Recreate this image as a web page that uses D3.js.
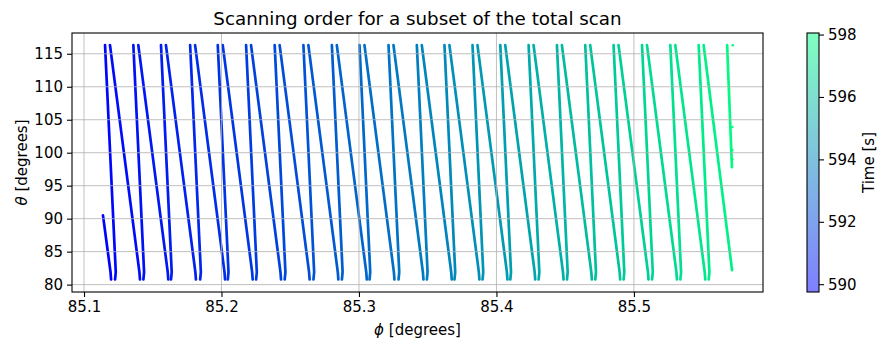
<!DOCTYPE html>
<html>
<head>
<meta charset="utf-8">
<script src="https://cdn.jsdelivr.net/npm/d3@7"></script>
<style>
  body { margin: 0; background: #fff; }
  svg text { font-family: "DejaVu Sans", sans-serif; fill: #000; }
</style>
</head>
<body>
<div id="chart"></div>
<script>
// phi [deg] where each fast (near vertical) stroke starts at the top / ends at the bottom
const vertTopPhi = [85.1153, 85.1359, 85.1560, 85.1772, 85.1973, 85.2179, 85.2387, 85.2596,
  85.2803, 85.3004, 85.3215, 85.3421, 85.3622, 85.3826, 85.4028, 85.4234, 85.4440, 85.4646,
  85.4852, 85.5059, 85.5265, 85.5471, 85.5678];
const vertBottomPhi = [85.1231, 85.1437, 85.1638, 85.1850, 85.2051, 85.2257, 85.2465, 85.2674,
  85.2881, 85.3082, 85.3293, 85.3499, 85.3700, 85.3904, 85.4106, 85.4312, 85.4518, 85.4724,
  85.4930, 85.5137, 85.5343, 85.5549, 85.5713];
const vertBottomTheta = [80.8, 80.8, 80.8, 80.8, 80.8, 80.8, 80.8, 80.8, 80.8, 80.8, 80.8, 80.8,
  80.8, 80.8, 80.8, 80.8, 80.8, 80.8, 80.8, 80.8, 80.8, 80.8, 97.8];
const vertTime = [589.95, 590.31, 590.66, 591.02, 591.37, 591.73, 592.08, 592.44, 592.79, 593.15,
  593.50, 593.86, 594.21, 594.57, 594.92, 595.28, 595.63, 595.99, 596.34, 596.70, 597.05, 597.41, 597.90];

// slow (slanted) strokes; the first one is only partly inside the subset
const slantTopPhi = [85.1138, 85.1189, 85.1395, 85.1596, 85.1808, 85.2009, 85.2215, 85.2423,
  85.2632, 85.2839, 85.3040, 85.3251, 85.3457, 85.3658, 85.3862, 85.4064, 85.4270, 85.4476,
  85.4682, 85.4888, 85.5095, 85.5301, 85.5507];
const slantTopTheta = [90.5, 116.3, 116.3, 116.3, 116.3, 116.3, 116.3, 116.3, 116.3, 116.3, 116.3,
  116.3, 116.3, 116.3, 116.3, 116.3, 116.3, 116.3, 116.3, 116.3, 116.3, 116.3, 116.3];
const slantBottomPhi = [85.1197, 85.1407, 85.1613, 85.1814, 85.2026, 85.2227, 85.2433, 85.2641,
  85.2850, 85.3057, 85.3258, 85.3469, 85.3675, 85.3876, 85.4080, 85.4282, 85.4488, 85.4694,
  85.4900, 85.5106, 85.5313, 85.5519, 85.5714];
const slantBottomTheta = [80.8, 80.8, 80.8, 80.8, 80.8, 80.8, 80.8, 80.8, 80.8, 80.8, 80.8, 80.8,
  80.8, 80.8, 80.8, 80.8, 80.8, 80.8, 80.8, 80.8, 80.8, 80.8, 82.2];
const slantTime = [589.80, 590.13, 590.49, 590.84, 591.20, 591.55, 591.91, 592.26, 592.62, 592.97,
  593.33, 593.68, 594.04, 594.39, 594.75, 595.10, 595.46, 595.81, 596.17, 596.52, 596.88, 597.23, 597.59];

// a few stray samples at the very end of the subset
const strayPhi = [85.5719, 85.5716, 85.5716, 85.5716];
const strayTheta = [116.3, 103.9, 100.4, 99.0];

const thetaTop = 116.3;
const thetaKnee = 81.9;

const xTicks = [85.1, 85.2, 85.3, 85.4, 85.5];
const yTicks = [80, 85, 90, 95, 100, 105, 110, 115];
const timeTicks = [590, 592, 594, 596, 598];
const timeRange = [589.75, 598.05];

class ScanChart {
  constructor(_config) {
    this.config = {
      parentElement: _config.parentElement,
      containerWidth: _config.containerWidth || 878,
      containerHeight: _config.containerHeight || 342,
      margin: _config.margin || {top: 33, right: 115, bottom: 50, left: 72},
      fontSize: _config.fontSize || 15
    };
    this.initVis();
  }

  winter(t) {
    return d3.rgb(0, 255 * t, 255 * (1 - 0.5 * t)).formatHex();
  }

  initVis() {
    let vis = this;
    vis.width = vis.config.containerWidth - vis.config.margin.left - vis.config.margin.right;
    vis.height = vis.config.containerHeight - vis.config.margin.top - vis.config.margin.bottom;

    vis.svg = d3.select(vis.config.parentElement).append('svg')
      .attr('width', vis.config.containerWidth)
      .attr('height', vis.config.containerHeight);

    vis.chart = vis.svg.append('g')
      .attr('transform', `translate(${vis.config.margin.left},${vis.config.margin.top})`);

    vis.xScale = d3.scaleLinear().domain([85.09127, 85.59389]).range([0, vis.width]);
    vis.yScale = d3.scaleLinear().domain([78.88, 118.15]).range([vis.height, 0]);
    vis.cScale = d3.scaleLinear().domain(timeRange).range([0, 1]);

    vis.renderVis();
  }

  renderVis() {
    let vis = this;
    const x = vis.xScale, y = vis.yScale;
    const fs = vis.config.fontSize;

    // build the strokes from the read turning points
    const strokes = [];
    vertTopPhi.forEach((p, i) => {
      const pts = [[p, thetaTop]];
      if (vertBottomTheta[i] < 85) {
        pts.push([vertBottomPhi[i], thetaKnee]);
        pts.push([vertBottomPhi[i] - 0.0005, vertBottomTheta[i]]);
      } else {
        pts.push([vertBottomPhi[i], vertBottomTheta[i]]);
      }
      strokes.push({pts, time: vertTime[i]});
    });
    slantTopPhi.forEach((p, i) => {
      const pts = [[p, slantTopTheta[i]]];
      if (slantBottomTheta[i] < 81.5) {
        pts.push([slantBottomPhi[i] - 0.0004, thetaKnee]);
        pts.push([slantBottomPhi[i], slantBottomTheta[i]]);
      } else {
        pts.push([slantBottomPhi[i], slantBottomTheta[i]]);
      }
      strokes.push({pts, time: slantTime[i]});
    });
    strokes.sort((a, b) => a.time - b.time);

    const line = d3.line().x(d => x(d[0])).y(d => y(d[1]));

    vis.chart.append('g').selectAll('path')
      .data(strokes)
      .join('path')
        .attr('d', d => line(d.pts))
        .attr('fill', 'none')
        .attr('stroke', d => vis.winter(vis.cScale(d.time)))
        .attr('stroke-width', 2.7)
        .attr('stroke-linecap', 'round')
        .attr('stroke-linejoin', 'round');

    vis.chart.append('g').selectAll('circle')
      .data(strayPhi.map((p, i) => [p, strayTheta[i]]))
      .join('circle')
        .attr('cx', d => x(d[0]))
        .attr('cy', d => y(d[1]))
        .attr('r', 1.3)
        .attr('fill', vis.winter(vis.cScale(598.0)));

    // grid is drawn over the scatter, as matplotlib does
    const grid = vis.chart.append('g').attr('stroke', '#b0b0b0').attr('stroke-width', 0.8);
    grid.selectAll('.gx').data(xTicks).join('line')
      .attr('x1', d => x(d)).attr('x2', d => x(d)).attr('y1', 0).attr('y2', vis.height);
    grid.selectAll('.gy').data(yTicks).join('line')
      .attr('y1', d => y(d)).attr('y2', d => y(d)).attr('x1', 0).attr('x2', vis.width);

    // axes
    const xAxis = d3.axisBottom(x).tickValues(xTicks).tickFormat(d3.format('.1f')).tickSize(5).tickSizeOuter(0).tickPadding(4);
    const yAxis = d3.axisLeft(y).tickValues(yTicks).tickSize(5).tickSizeOuter(0).tickPadding(4);
    const xg = vis.chart.append('g').attr('transform', `translate(0,${vis.height})`).call(xAxis);
    const yg = vis.chart.append('g').call(yAxis);
    [xg, yg].forEach(g => {
      g.select('.domain').remove();
      g.selectAll('.tick line').attr('stroke', '#000').attr('stroke-width', 1.1);
      g.selectAll('.tick text').attr('font-size', fs).attr('font-family', '"DejaVu Sans", sans-serif');
    });

    vis.chart.append('rect')
      .attr('width', vis.width).attr('height', vis.height)
      .attr('fill', 'none').attr('stroke', '#000').attr('stroke-width', 1.1);

    // titles
    vis.svg.append('text')
      .attr('x', vis.config.margin.left + vis.width / 2).attr('y', 24.5)
      .attr('text-anchor', 'middle').attr('font-size', 18.3)
      .text('Scanning order for a subset of the total scan');

    const xl = vis.svg.append('text')
      .attr('x', vis.config.margin.left + vis.width / 2).attr('y', 335)
      .attr('text-anchor', 'middle').attr('font-size', fs);
    xl.append('tspan').attr('font-style', 'italic').text('ϕ');
    xl.append('tspan').text(' [degrees]');

    const yl = vis.svg.append('text')
      .attr('transform', `translate(27,${vis.config.margin.top + vis.height / 2}) rotate(-90)`)
      .attr('text-anchor', 'middle').attr('font-size', fs);
    yl.append('tspan').attr('font-style', 'italic').text('θ');
    yl.append('tspan').text(' [degrees]');

    // colorbar
    const cbX = 807, cbW = 12;
    const cbY = d3.scaleLinear().domain(timeRange).range([vis.config.margin.top + vis.height, vis.config.margin.top]);
    const grad = vis.svg.append('defs').append('linearGradient')
      .attr('id', 'cbgrad').attr('x1', 0).attr('x2', 0).attr('y1', 1).attr('y2', 0);
    grad.append('stop').attr('offset', 0).attr('stop-color', vis.winter(0));
    grad.append('stop').attr('offset', 1).attr('stop-color', vis.winter(1));
    vis.svg.append('rect')
      .attr('x', cbX).attr('y', cbY(timeRange[1]))
      .attr('width', cbW).attr('height', cbY(timeRange[0]) - cbY(timeRange[1]))
      .attr('fill', 'url(#cbgrad)').attr('fill-opacity', 0.5);
    vis.svg.append('rect')
      .attr('x', cbX).attr('y', cbY(timeRange[1]))
      .attr('width', cbW).attr('height', cbY(timeRange[0]) - cbY(timeRange[1]))
      .attr('fill', 'none').attr('stroke', '#000').attr('stroke-width', 1.1);

    const cAxis = d3.axisRight(cbY).tickValues(timeTicks).tickSize(5).tickPadding(4);
    const cg = vis.svg.append('g').attr('transform', `translate(${cbX + cbW},0)`).call(cAxis);
    cg.select('.domain').remove();
    cg.selectAll('.tick line').attr('stroke', '#000').attr('stroke-width', 1.1);
    cg.selectAll('.tick text').attr('font-size', fs).attr('font-family', '"DejaVu Sans", sans-serif');

    vis.svg.append('text')
      .attr('transform', `translate(874,${vis.config.margin.top + vis.height / 2}) rotate(-90)`)
      .attr('text-anchor', 'middle').attr('font-size', fs)
      .text('Time [s]');
  }
}

new ScanChart({parentElement: '#chart'});
</script>
</body>
</html>
